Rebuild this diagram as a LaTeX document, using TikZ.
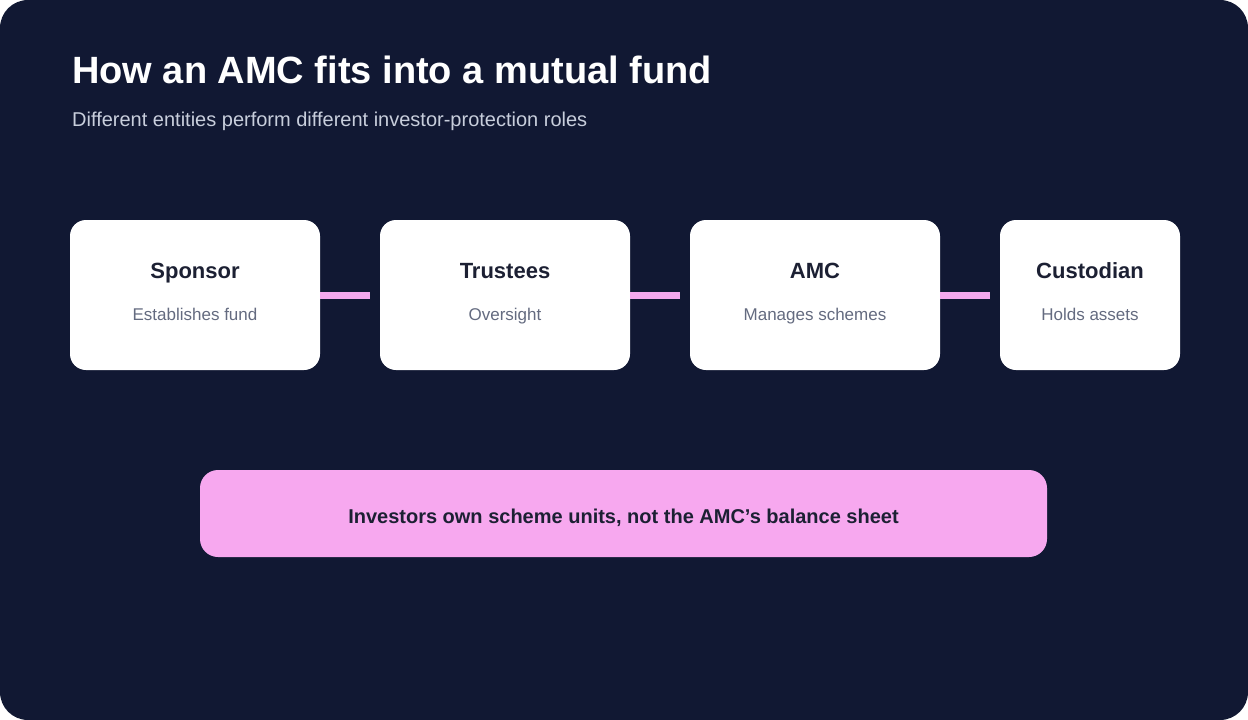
\documentclass[tikz,border=0pt]{standalone}
\usepackage{fontspec}
\setmainfont{Liberation Sans}
\definecolor{bgnavy}{HTML}{111833}
\definecolor{cardtitle}{HTML}{1C2033}
\definecolor{cardsub}{HTML}{646B80}
\definecolor{linkpink}{HTML}{F5A8EE}
\definecolor{notepink}{HTML}{F7A8EF}
\definecolor{subtxt}{HTML}{C8CEDC}
\begin{document}
\begin{tikzpicture}[x=1pt,y=-1pt,
  card/.style={draw=none,fill=white,rounded corners=16pt,minimum height=150pt,inner sep=0pt},
  cardhead/.style={font=\fontsize{22}{26}\selectfont\bfseries,text=cardtitle,anchor=base},
  cardtext/.style={font=\fontsize{17}{20}\selectfont,text=cardsub,anchor=base},
  link/.style={draw=linkpink,line width=7pt}]
\useasboundingbox (0,0) rectangle (1248,720);
\fill[bgnavy,rounded corners=28pt] (0,0) rectangle (1248,720);
\node[anchor=base west,text=white,font=\fontsize{38}{44}\selectfont\bfseries,inner sep=0pt] (title) at (72,83) {How an AMC fits into a mutual fund};
\node[anchor=base west,text=subtxt,font=\fontsize{20}{24}\selectfont,inner sep=0pt] (sub) at (72,126) {Different entities perform different investor-protection roles};
\node[card,minimum width=250pt] (sp) at (195,295) {};
\node[card,minimum width=250pt] (tr) at (505,295) {};
\node[card,minimum width=250pt] (amc) at (815,295) {};
\node[card,minimum width=180pt] (cu) at (1090,295) {};
\node[cardhead] (sph) at (195,278) {Sponsor};
\node[cardtext] (spt) at (195,320) {Establishes fund};
\node[cardhead] (trh) at (505,278) {Trustees};
\node[cardtext] (trt) at (505,320) {Oversight};
\node[cardhead] (amch) at (815,278) {AMC};
\node[cardtext] (amct) at (815,320) {Manages schemes};
\node[cardhead] (cuh) at (1090,278) {Custodian};
\node[cardtext] (cut) at (1090,320) {Holds assets};
\coordinate (e1) at ([xshift=-10pt]tr.west);
\coordinate (e2) at ([xshift=-10pt]amc.west);
\coordinate (e3) at ([xshift=-10pt]cu.west);
\draw[link] (sp.east) -- (e1);
\draw[link] (tr.east) -- (e2);
\draw[link] (amc.east) -- (e3);
\node[fill=notepink,rounded corners=18pt,minimum width=847pt,minimum height=87pt,inner sep=0pt] (note) at (623.5,513.5) {};
\node[anchor=base,text=cardtitle,font=\fontsize{20}{24}\selectfont\bfseries] (notet) at (note.center) [yshift=-10pt] {Investors own scheme units, not the AMC’s balance sheet};
\end{tikzpicture}
\end{document}
